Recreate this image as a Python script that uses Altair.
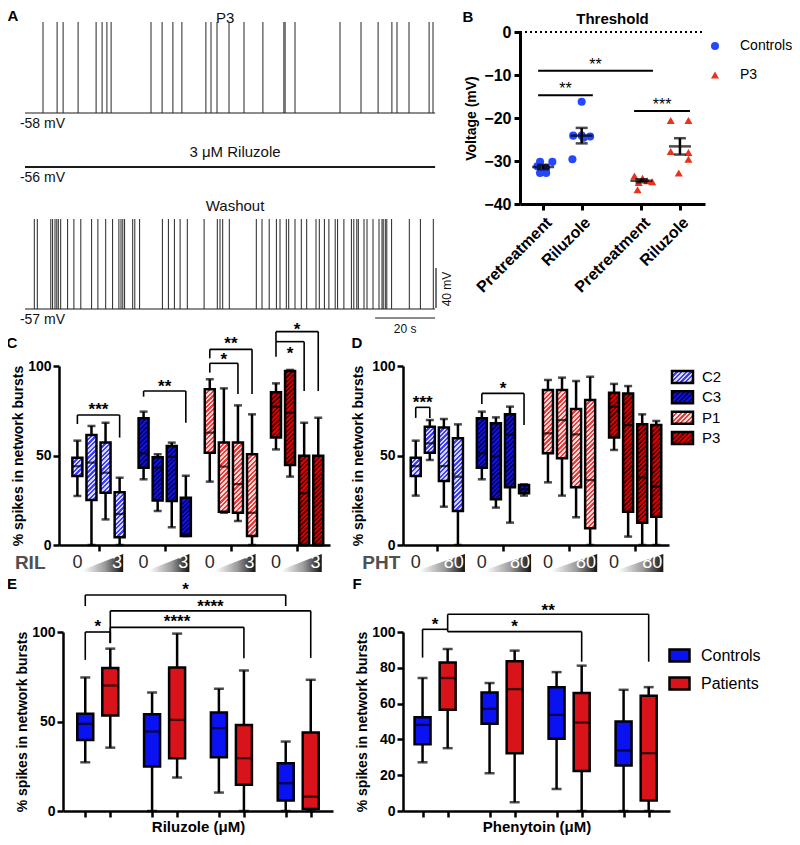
import altair as alt

FONT = "Liberation Sans"
W, H = 784, 829


def px(x):
    return x - 8


def py(y):
    return y - 8


# ---------------------------------------------------------------- colours
BLUE_DOT = "#2448ff"
RED_TRI = "#e8321e"
CTRL_COL = "#0a12f2"
PAT_COL = "#d8141a"
HATCH = {  # stripe colour, background colour
    "C2": ("#3d3dff", "#d8d8ff"),
    "C3": ("#1414d8", "#00006e"),
    "P1": ("#f03a3a", "#ffd8d8"),
    "P3": ("#d80000", "#560000"),
}

# ---------------------------------------------------------------- panel A data
TRACE_LABELS = ["P3", "3 μM Riluzole", "Washout"]
TRACE_REST_MV = [-58, -56, -57]
SPIKE_PEAK_MV = 33
P3_SPIKE_T = [6, 10.7, 12.7, 17.7, 23.7, 25.7, 27.3, 28.7, 42, 45.7, 49.3, 52.3, 60.3, 62, 64,
              68, 73, 79.3, 86.3, 86.7, 90, 105, 112, 117.7, 122.3, 124, 128, 134.7, 136]
RIL_SPIKE_T = []
WASH_SPIKE_T = [3.1, 4.1, 8.6, 9.2, 10, 10.6, 11.1, 11.9, 14.2, 16.3, 18.6, 22.2, 24.3, 26.9,
                29.2, 31.3, 32, 32.6, 33.2, 35.9, 36.6, 38.2, 45.8, 47.8, 49.8, 51.7, 54.1, 59.7,
                64.1, 65, 65.9, 68.1, 77.1, 79, 81.4, 83.8, 85, 87.1, 87.9, 90, 92.1, 93.9, 97,
                98.1, 99.8, 101.3, 103.4, 104.2, 106.3, 108.8, 109.6, 110.6, 111.1, 113, 114, 116,
                118, 119, 119.4, 120.1, 120.6, 122.2, 128.1, 131.8, 136.1]
SCALE_T_S = 20
SCALE_V_MV = 40

# ---------------------------------------------------------------- panel B data
B_CONDITIONS = ["Pretreatment", "Riluzole", "Pretreatment", "Riluzole"]
B_GROUPS = ["Controls", "Controls", "P3", "P3"]
B_POINTS = [
    [-30.2, -30.2, -31.2, -31.6, -32.8, -32.8],
    [-16.2, -24.1, -24.1, -24.3, -24.6, -29.6],
    [-33.5, -34.0, -34.6, -34.8, -35.0, -36.7],
    [-20.6, -20.6, -27.8, -28.0, -29.6, -32.8],
]
B_MEAN = [-31.4, -24.1, -34.6, -26.6]
B_SEM = [0.5, 1.8, 0.35, 1.9]
B_SIG_LABEL = ["**", "**", "***"]
B_SIG_FROM = [0.87, 0.87, 3.36]
B_SIG_TO = [3.85, 2.29, 4.81]
B_SIG_Y = [-9.0, -14.7, -18.4]

# ---------------------------------------------------------------- panels C / D data
LINES = ["C2", "C3", "P1", "P3"]
C_MIN = [27.4, 0, 14.3, 0, 36.7, 19.0, 9.9, 5.0, 35.4, 18.0, 13.4, 0, 53.4, 38.2, 0, 0]
C_Q1 = [38.5, 25.1, 29.2, 4.3, 43.2, 24.8, 24.6, 5.0, 51.6, 18.6, 18.0, 5.0, 60.0, 44.7, 0, 0]
C_MED = [44.0, 46.0, 40.4, 17.3, 51.2, 43.2, 49.3, 6.0, 62.8, 43.8, 34.0, 18.0, 77.3, 73.9, 28.9, 0]
C_Q3 = [48.8, 61.5, 57.2, 29.4, 70.8, 49.0, 55.3, 26.4, 87.0, 57.2, 57.2, 50.7, 85.3, 97.2, 49.9, 49.9]
C_MAX = [58.3, 66.5, 68.3, 37.6, 74.5, 50.7, 57.2, 38.7, 92.6, 87.5, 78.0, 73.0, 90.3, 97.8, 68.3, 71.1]

D_MIN = [27.6, 47.5, 21.4, 0, 36.7, 20.9, 12.5, 27.6, 35.0, 27.6, 15.5, 0, 53.1, 4.7, 0, 0]
D_Q1 = [38.5, 51.6, 35.8, 19.0, 43.2, 25.5, 32.2, 28.9, 51.2, 48.4, 32.2, 9.3, 60.0, 18.6, 12.5, 15.8]
D_MED = [44.0, 56.8, 44.1, 38.2, 51.2, 49.3, 61.5, 31.1, 62.4, 69.8, 61.8, 36.3, 77.3, 67.0, 37.8, 32.6]
D_Q3 = [48.8, 66.1, 65.7, 59.6, 70.8, 68.0, 73.0, 33.5, 86.6, 86.6, 76.0, 81.0, 85.1, 84.7, 67.4, 67.0]
D_MAX = [58.3, 69.8, 70.4, 67.4, 74.5, 71.3, 77.3, 33.9, 92.2, 93.5, 91.6, 94.0, 90.0, 88.8, 73.0, 69.3]

# brackets: label, (group, box) from, (group, box) to, top, left end, right end, label level
C_BRACKETS = [
    ("***", (0, 0), (0, 3), 72.6, 67.6, 60.0, 78.2),
    ("**", (1, 0), (1, 3), 86.0, 82.9, 68.3, 91.2),
    ("**", (2, 0), (2, 3), 109.3, 104.3, 84.4, 114.9),
    ("*", (2, 0), (2, 2), 101.5, 96.3, 84.4, 106.3),
    ("*", (3, 0), (3, 3), 119.2, 113.6, 86.0, 123.0),
    ("*", (3, 0), (3, 2), 113.6, 105.2, 86.0, 109.6),
]
D_BRACKETS = [
    ("***", (0, 0), (0, 1), 76.9, 71.0, 71.0, 82.0),
    ("*", (1, 0), (1, 3), 84.7, 78.8, 67.0, 89.8),
]

# ---------------------------------------------------------------- panels E / F data
EF_GROUPS = ["Controls", "Patients"]
E_MIN = [27.2, 35.4, 0, 18.7, 10.3, 0, 0, 0]
E_Q1 = [39.7, 53.4, 24.8, 29.5, 30.0, 14.6, 5.8, 1.1]
E_MED = [48.7, 70.1, 44.4, 50.9, 46.3, 29.5, 15.5, 8.0]
E_Q3 = [54.3, 79.9, 54.1, 80.2, 55.0, 48.1, 26.7, 43.8]
E_MAX = [74.6, 90.7, 66.2, 99.1, 68.3, 78.5, 38.8, 73.3]

F_MIN = [27.2, 35.1, 21.1, 4.9, 12.3, 0, 0, 0]
F_Q1 = [37.3, 56.5, 48.7, 32.3, 40.3, 22.4, 25.4, 5.8]
F_MED = [48.1, 74.3, 57.1, 68.1, 53.7, 49.4, 33.8, 32.3]
F_Q3 = [52.4, 83.0, 66.2, 83.6, 69.2, 65.9, 50.0, 64.4]
F_MAX = [74.3, 90.5, 71.5, 89.6, 77.6, 81.2, 67.7, 69.2]

E_BRACKETS = [
    ("*", (0, 0), (3, 0), 120.7, 114.5, 114.5, 126.3),
    ("****", (0, 1), (3, 1), 111.8, 93.8, 85.5, 116.8),
    ("****", (0, 1), (2, 1), 102.6, 93.8, 85.3, 108.4),
    ("*", (0, 0), (0, 1), 100.0, 84.4, 93.8, 105.8),
]
F_BRACKETS = [
    ("*", (0, 0), (0, 1), 101.5, 85.7, 101.5, 106.7),
    ("**", (0, 1), (3, 1), 109.9, 100.2, 83.4, 114.5),
    ("*", (0, 1), (2, 1), 100.2, 100.2, 83.4, 105.4),
]


# ---------------------------------------------------------------- helpers
def hatch(w, h, c1, c2, period=4.6, frac=0.5):
    h = max(h, 1.0)
    n = max(1, int(round((w + h) / period)))
    stops = []
    for i in range(n):
        a, b, c = i / n, (i + frac) / n, (i + 1) / n
        stops += [{"offset": round(a, 4), "color": c1}, {"offset": round(b, 4), "color": c1},
                  {"offset": round(b, 4), "color": c2}, {"offset": round(c, 4), "color": c2}]
    k = (w + h) / (w * w + h * h)
    return {"gradient": "linear", "x1": 0, "y1": 0, "x2": round(k * w, 5),
            "y2": round(k * h, 5), "stops": stops}


AX_STYLE = dict(grid=False, domainWidth=2.5, tickWidth=2.5, tickSize=6, domainColor="black",
                tickColor="black", labelColor="black", titleColor="black", labelFont=FONT,
                titleFont=FONT, labelFontWeight="bold", titleFontWeight="bold",
                labelFontSize=14, titleFontSize=14, labelOverlap=False)


def bracket_layers(brackets, posf, xs, ys, xaxis, yaxis):
    segs, labs = [], []
    for lab, a, b, top, le, re, ly in brackets:
        x1, x2 = posf(*a), posf(*b)
        segs.append({"x": x1, "x2": x2, "y": top, "y2": top})
        if le != top:
            segs.append({"x": x1, "x2": x1, "y": top, "y2": le})
        if re != top:
            segs.append({"x": x2, "x2": x2, "y": top, "y2": re})
        labs.append({"x": (x1 + x2) / 2, "y": ly, "s": lab})
    r = alt.Chart(alt.Data(values=segs)).mark_rule(color="black", strokeWidth=1.6).encode(
        x=alt.X("x:Q", scale=xs, axis=xaxis), x2="x2:Q",
        y=alt.Y("y:Q", scale=ys, axis=yaxis), y2="y2:Q")
    t = alt.Chart(alt.Data(values=labs)).mark_text(
        font=FONT, fontSize=17, fontWeight="bold", color="black", baseline="alphabetic",
        dy=10).encode(x=alt.X("x:Q", scale=xs, axis=xaxis),
                      y=alt.Y("y:Q", scale=ys, axis=yaxis), text="s:N")
    return [r, t]


def box_layers(rows, xs, ys, xaxis, yaxis, box_w, cap_w, fill_enc):
    d = alt.Data(values=rows)
    X = alt.X("pos:Q", scale=xs, axis=xaxis)
    whisk = alt.Chart(d).mark_rule(color="black", strokeWidth=2.5).encode(
        x=X, y=alt.Y("lo:Q", scale=ys, axis=yaxis), y2="hi:Q")
    box = alt.Chart(d).mark_bar(size=box_w, stroke="black", strokeWidth=2.5).encode(
        x=X, y=alt.Y("q1:Q", scale=ys, axis=yaxis), y2="q3:Q", **fill_enc)
    med = alt.Chart(d).mark_tick(orient="horizontal", size=box_w, thickness=2.3,
                                 color="black").encode(x=X, y=alt.Y("med:Q", scale=ys, axis=yaxis))
    cap_lo = alt.Chart(d).mark_tick(orient="horizontal", size=cap_w, thickness=2.5,
                                    color="black").encode(x=X, y=alt.Y("lo:Q", scale=ys, axis=yaxis))
    cap_hi = alt.Chart(d).mark_tick(orient="horizontal", size=cap_w, thickness=2.5,
                                    color="black").encode(x=X, y=alt.Y("hi:Q", scale=ys, axis=yaxis))
    return [whisk, box, med, cap_lo, cap_hi]


# ================================================================ Panel A
a_x = alt.Scale(domain=[0, 137], range=[px(25), px(436)])
a_y = alt.Scale(domain=[-300, 40], range=[py(355), py(15)])
A_OFFSET = [0, -56, -197]  # vertical stacking of the three recordings
A_TITLE_LEVEL = [37.5, -97, -151]

spk_rows, base_rows, lab_rows, rest_rows = [], [], [], []
for k, times in enumerate([P3_SPIKE_T, RIL_SPIKE_T, WASH_SPIKE_T]):
    rest = TRACE_REST_MV[k] + A_OFFSET[k]
    base_rows.append({"t0": 0, "t1": 136.7, "v": rest, "w": 1.8 if k == 1 else 1.2})
    for t in times:
        spk_rows.append({"t": t, "v0": rest, "v1": SPIKE_PEAK_MV + A_OFFSET[k]})
    lab_rows.append({"t": 70.0 if k else 66.7, "v": A_TITLE_LEVEL[k], "s": TRACE_LABELS[k]})
    rest_rows.append({"t": -1.7, "v": rest - 10.5, "s": f"-{abs(TRACE_REST_MV[k])} mV"})

wash_rest = TRACE_REST_MV[2] + A_OFFSET[2]
bar_rows = [
    {"t": 137, "t2": 137, "v": wash_rest + 1, "v2": wash_rest + 1 + SCALE_V_MV},
    {"t": 136.7 - SCALE_T_S, "t2": 136.7, "v": wash_rest - 9, "v2": wash_rest - 9},
]


def AX(f):
    return alt.X(f, scale=a_x, axis=None)


def AY(f):
    return alt.Y(f, scale=a_y, axis=None)


a_layers = [
    alt.Chart(alt.Data(values=base_rows)).mark_rule(color="#1a1a1a").encode(
        x=AX("t0:Q"), x2="t1:Q", y=AY("v:Q"), strokeWidth=alt.StrokeWidth("w:Q", scale=None)),
    alt.Chart(alt.Data(values=spk_rows)).mark_rule(color="#262626", strokeWidth=1.0).encode(
        x=AX("t:Q"), y=AY("v0:Q"), y2="v1:Q"),
    alt.Chart(alt.Data(values=bar_rows)).mark_rule(color="#1a1a1a", strokeWidth=1.2).encode(
        x=AX("t:Q"), x2="t2:Q", y=AY("v:Q"), y2="v2:Q"),
    alt.Chart(alt.Data(values=lab_rows)).mark_text(font=FONT, fontSize=15, color="#111").encode(
        x=AX("t:Q"), y=AY("v:Q"), text="s:N"),
    alt.Chart(alt.Data(values=rest_rows)).mark_text(font=FONT, fontSize=14, align="left",
                                                   color="#111").encode(
        x=AX("t:Q"), y=AY("v:Q"), text="s:N"),
    alt.Chart(alt.Data(values=[{"t": 126.7, "v": wash_rest - 20, "s": f"{SCALE_T_S} s"}])).mark_text(
        font=FONT, fontSize=12, color="#111").encode(x=AX("t:Q"), y=AY("v:Q"), text="s:N"),
    alt.Chart(alt.Data(values=[{"t": 140.6, "v": wash_rest + 20, "s": f"{SCALE_V_MV} mV"}])).mark_text(
        font=FONT, fontSize=12, color="#111", angle=270).encode(
        x=AX("t:Q"), y=AY("v:Q"), text="s:N"),
]
A = alt.layer(*a_layers)

# ================================================================ Panel B
b_x = alt.Scale(domain=[0.4, 5.2], range=[px(520), px(705)])
b_y = alt.Scale(domain=[-40, 0], range=[py(204), py(32)])
B_POS = [1, 2, 3.55, 4.55]
B_JITTER = [
    [-0.08, 0.24, -0.15, 0.08, -0.08, 0.08],
    [0.0, -0.22, 0.0, 0.22, 0.05, -0.24],
    [-0.18, 0.03, 0.15, 0.28, -0.07, -0.1],
    [-0.24, 0.22, -0.24, 0.22, 0.22, -0.03],
]
b_yaxis = alt.Axis(orient="left", offset=-px(520), values=[0, -10, -20, -30, -40],
                   title="Voltage (mV)", labelPadding=3, titlePadding=5,
                   **{**AX_STYLE, "domainWidth": 3, "tickWidth": 3, "labelFontSize": 16})
b_xaxis = alt.Axis(orient="bottom", offset=py(204) - H, values=B_POS, title=None,
                   labelAngle=-45, labelPadding=4,
                   labelExpr="datum.value == 1 || datum.value == 3.55 ? 'Pretreatment' : 'Riluzole'",
                   **{**AX_STYLE, "domainWidth": 3, "tickWidth": 3, "labelFontSize": 16})

pt_rows, sem_rows = [], []
for i in range(4):
    for j, v in enumerate(B_POINTS[i]):
        pt_rows.append({"x": B_POS[i] + B_JITTER[i][j], "v": v, "grp": B_GROUPS[i],
                        "cond": B_CONDITIONS[i]})
    sem_rows.append({"x": B_POS[i], "m": B_MEAN[i], "lo": B_MEAN[i] - B_SEM[i],
                     "hi": B_MEAN[i] + B_SEM[i]})

b_leg = alt.Legend(orient="none", legendX=px(708), legendY=py(39), title=None, padding=0,
                   labelFont=FONT, labelFontSize=14, labelColor="black", symbolSize=65,
                   rowPadding=15, labelOffset=18, labelLimit=200)
BX = alt.X("x:Q", scale=b_x, axis=b_xaxis)
BY = lambda f: alt.Y(f, scale=b_y, axis=b_yaxis)
b_sig_rows = [{"x": B_SIG_FROM[i], "x2": B_SIG_TO[i], "y": B_SIG_Y[i], "y2": B_SIG_Y[i]}
              for i in range(3)]
b_sig_lab = [{"x": (B_SIG_FROM[i] + B_SIG_TO[i]) / 2, "y": B_SIG_Y[i] + 2.3, "s": B_SIG_LABEL[i]}
             for i in range(3)]
b_layers = [
    alt.Chart(alt.Data(values=[{"x": 0.4, "x2": 5.2, "y": 0}])).mark_rule(
        color="black", strokeWidth=2, strokeDash=[2, 3]).encode(x=BX, x2="x2:Q", y=BY("y:Q")),
    alt.Chart(alt.Data(values=pt_rows)).mark_point(filled=True, size=65, opacity=1).encode(
        x=BX, y=BY("v:Q"),
        color=alt.Color("grp:N", scale=alt.Scale(domain=["Controls", "P3"],
                                                 range=[BLUE_DOT, RED_TRI]), legend=b_leg),
        shape=alt.Shape("grp:N", scale=alt.Scale(domain=["Controls", "P3"],
                                                 range=["circle", "triangle-up"]), legend=b_leg)),
    alt.Chart(alt.Data(values=sem_rows)).mark_rule(color="black", strokeWidth=2.5).encode(
        x=BX, y=BY("lo:Q"), y2="hi:Q"),
    alt.Chart(alt.Data(values=sem_rows)).mark_tick(orient="horizontal", size=22, thickness=2.5,
                                                   color="black").encode(x=BX, y=BY("m:Q")),
    alt.Chart(alt.Data(values=sem_rows)).mark_tick(orient="horizontal", size=12, thickness=2.5,
                                                   color="black").encode(x=BX, y=BY("lo:Q")),
    alt.Chart(alt.Data(values=sem_rows)).mark_tick(orient="horizontal", size=12, thickness=2.5,
                                                   color="black").encode(x=BX, y=BY("hi:Q")),
    alt.Chart(alt.Data(values=b_sig_rows)).mark_rule(color="black", strokeWidth=2).encode(
        x=BX, x2="x2:Q", y=BY("y:Q"), y2="y2:Q"),
    alt.Chart(alt.Data(values=b_sig_lab)).mark_text(
        font=FONT, fontSize=16, color="black", baseline="alphabetic", dy=9).encode(
        x=BX, y=BY("y:Q"), text="s:N"),
    alt.Chart(alt.Data(values=[{"x": 2.8, "y": 3.0, "s": "Threshold"}])).mark_text(
        font=FONT, fontSize=15, fontWeight="bold", color="black").encode(
        x=BX, y=BY("y:Q"), text="s:N"),
]
B = alt.layer(*b_layers)

# ================================================================ Panels C and D
GAP = 4.7
Y_PER_UNIT_CD = 179 / 100.0


def cdpos(g, j):
    return g * GAP + j


c_x = alt.Scale(domain=[-0.95, 3 * GAP + 3 + 0.48], range=[px(59), px(330)])
d_x = alt.Scale(domain=[-0.55, 3 * GAP + 3 + 0.55], range=[px(403), px(669)])
cd_y = alt.Scale(domain=[0, 100], range=[py(545), py(366)])
WEDGE_GRAD = {"gradient": "linear", "x1": 0, "y1": 0, "x2": 1, "y2": 0,
              "stops": [{"offset": 0, "color": "#ffffff"}, {"offset": 0.55, "color": "#9a9a9a"},
                        {"offset": 1, "color": "#141414"}]}


def cd_panel(mins, q1s, meds, q3s, maxs, xs, x_off, tpad, brackets, drug, hi_dose, wedge, drug_x):
    rows = []
    for g in range(4):
        c1, c2 = HATCH[LINES[g]]
        for j in range(4):
            i = g * 4 + j
            rows.append({"pos": cdpos(g, j), "lo": mins[i], "q1": q1s[i], "med": meds[i],
                         "q3": q3s[i], "hi": maxs[i],
                         "grad": hatch(10, (q3s[i] - q1s[i]) * Y_PER_UNIT_CD, c1, c2)})
    yaxis = alt.Axis(orient="left", offset=-x_off, values=[0, 50, 100],
                     title="% spikes in network bursts",
                     labelPadding=2, titlePadding=tpad, **AX_STYLE)
    xaxis = alt.Axis(orient="bottom", offset=py(545) - H, values=[cdpos(g, 1.5) for g in range(4)],
                     labels=False, title=None, **AX_STYLE)
    layers = box_layers(rows, xs, cd_y, xaxis, yaxis, 10, 8,
                        {"fill": alt.Fill("grad:N", scale=None)})
    layers += bracket_layers(brackets, cdpos, xs, cd_y, xaxis, yaxis)
    XX = alt.X("x:Q", scale=xs, axis=xaxis)
    YY = lambda f: alt.Y(f, scale=cd_y, axis=yaxis)
    wa, wb = wedge
    wrows = []
    for g in range(4):
        wrows += [{"x": cdpos(g, wa), "lo": -15.1, "hi": -13.8, "g": g},
                  {"x": cdpos(g, wb), "lo": -15.1, "hi": -5.0, "g": g}]
    layers.append(alt.Chart(alt.Data(values=wrows)).mark_area(fill=WEDGE_GRAD, opacity=1).encode(
        x=XX, y=YY("lo:Q"), y2="hi:Q", detail="g:N"))
    zero_rows = [{"x": cdpos(g, 0), "y": -10, "s": "0"} for g in range(4)]
    hi_rows = [{"x": cdpos(g, wb - 0.08), "y": -10, "s": hi_dose} for g in range(4)]
    layers.append(alt.Chart(alt.Data(values=zero_rows)).mark_text(
        font=FONT, fontSize=18, color="#2a2a2a", baseline="middle").encode(
        x=XX, y=YY("y:Q"), text="s:N"))
    layers.append(alt.Chart(alt.Data(values=hi_rows)).mark_text(
        font=FONT, fontSize=18, color="white", align="right", baseline="middle").encode(
        x=XX, y=YY("y:Q"), text="s:N"))
    layers.append(alt.Chart(alt.Data(values=[{"x": drug_x, "y": -10, "s": drug}])).mark_text(
        font=FONT, fontSize=19, fontWeight="bold", color="#505050", baseline="middle").encode(
        x=XX, y=YY("y:Q"), text="s:N"))
    return alt.layer(*layers)


C = cd_panel(C_MIN, C_Q1, C_MED, C_Q3, C_MAX, c_x, px(59), 2, C_BRACKETS, "RIL", "3",
             (0.4, 3.25), -3.35)
D = cd_panel(D_MIN, D_Q1, D_MED, D_Q3, D_MAX, d_x, px(403), 6, D_BRACKETS, "PHT", "80",
             (0.27, 3.5), -2.45)

# D legend (hatched swatches)
leg_y = alt.Scale(type="point", domain=LINES, range=[py(377), py(438)], padding=0)
leg_rows = [{"name": n, "grad": hatch(21, 12, *HATCH[n])} for n in LINES]
DLEG = alt.layer(
    alt.Chart(alt.Data(values=leg_rows)).mark_point(
        shape="M-1,-0.57H1V0.57H-1Z", size=441, filled=True, stroke="black", strokeWidth=2.5,
        opacity=1).encode(x=alt.value(px(682.5)), y=alt.Y("name:N", scale=leg_y, axis=None),
                          fill=alt.Fill("grad:N", scale=None)),
    alt.Chart(alt.Data(values=leg_rows)).mark_text(
        font=FONT, fontSize=15, align="left", baseline="middle", color="black").encode(
        x=alt.value(px(702)), y=alt.Y("name:N", scale=leg_y, axis=None), text="name:N"),
)

# ================================================================ Panels E and F
EGAP = 2.67


def efpos(g, k):
    return g * EGAP + k


ef_y = alt.Scale(domain=[0, 100], range=[py(811), py(632)])
e_x = alt.Scale(domain=[-0.69, 3 * EGAP + 1 + 0.69], range=[px(63), px(333)])
f_x = alt.Scale(domain=[-0.58, 3 * EGAP + 1 + 0.65], range=[px(403), px(670)])


def ef_panel(mins, q1s, meds, q3s, maxs, xs, x_off, yvals, tpad, title, brackets, show_legend):
    rows = []
    for g in range(4):
        for k in range(2):
            i = g * 2 + k
            rows.append({"pos": efpos(g, k), "lo": mins[i], "q1": q1s[i], "med": meds[i],
                         "q3": q3s[i], "hi": maxs[i], "grp": EF_GROUPS[k]})
    yaxis = alt.Axis(orient="left", offset=-x_off, values=yvals, title="% spikes in network bursts",
                     labelPadding=2, titlePadding=tpad, **AX_STYLE)
    xaxis = alt.Axis(orient="bottom", offset=py(811) - H, values=[r["pos"] for r in rows],
                     labels=False, title=title, titlePadding=1,
                     **{**AX_STYLE, "titleFontSize": 15})
    legend = None
    if show_legend:
        legend = alt.Legend(orient="none", legendX=px(668), legendY=py(644), title=None,
                            padding=0, labelFont=FONT, labelFontSize=16, labelColor="black",
                            symbolType="M-1,-0.6H1V0.6H-1Z", symbolSize=400,
                            symbolStrokeColor="black", symbolStrokeWidth=2.5,
                            rowPadding=5, labelOffset=10)
    fill = {"color": alt.Color("grp:N", scale=alt.Scale(domain=EF_GROUPS, range=[CTRL_COL, PAT_COL]),
                               legend=legend)}
    layers = box_layers(rows, xs, ef_y, xaxis, yaxis, 16, 10, fill)
    layers += bracket_layers(brackets, efpos, xs, ef_y, xaxis, yaxis)
    return alt.layer(*layers)


E = ef_panel(E_MIN, E_Q1, E_MED, E_Q3, E_MAX, e_x, px(63), [0, 50, 100], 2,
             "Riluzole (μM)", E_BRACKETS, False)
F = ef_panel(F_MIN, F_Q1, F_MED, F_Q3, F_MAX, f_x, px(403), [0, 20, 40, 60, 80, 100], 2,
             "Phenytoin (μM)", F_BRACKETS, True)

# ================================================================ panel letters
LETTERS = ["A", "B", "C", "D", "E", "F"]
LETTER_XY = [(13, 16), (468, 17), (12, 343), (357, 343), (12, 584), (357, 584)]
letter_layers = [
    alt.Chart(alt.Data(values=[{"s": s}])).mark_text(
        font=FONT, fontSize=15, fontWeight="bold", color="black").encode(
        x=alt.value(px(x)), y=alt.value(py(y)), text="s:N")
    for s, (x, y) in zip(LETTERS, LETTER_XY)
]
LET = alt.layer(*letter_layers)

chart = alt.layer(A, B, C, D, DLEG, E, F, LET).resolve_scale(
    x="independent", y="independent", color="independent", shape="independent"
).properties(
    width=W, height=H, autosize=alt.AutoSizeParams(type="none"), padding=0
).configure_view(stroke=None).configure_text(font=FONT).configure_legend(labelFont=FONT)

chart.save("out.html", embed_options={"renderer": "svg", "actions": False})
